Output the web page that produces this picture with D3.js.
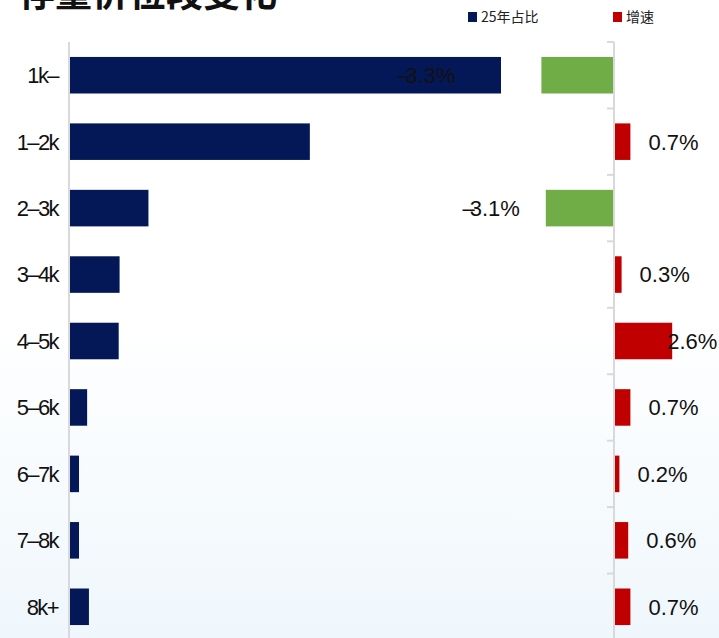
<!DOCTYPE html>
<html>
<head>
<meta charset="utf-8">
<script src="https://cdn.jsdelivr.net/npm/d3@7"></script>
<style>
  html, body { margin: 0; padding: 0; background: #fff; }
  svg { display: block; }
</style>
</head>
<body>
<svg id="chart" width="719" height="638"></svg>
<script>
// Price bands
const categories = ["1k–", "1–2k", "2–3k", "3–4k", "4–5k", "5–6k", "6–7k", "7–8k", "8k+"];
// 2025 share of each band (%)
const share2025 = [47.8, 26.6, 8.7, 5.5, 5.4, 1.9, 1.0, 1.0, 2.1];
// Change in share (percentage points)
const growth = [-3.3, 0.7, -3.1, 0.3, 2.6, 0.7, 0.2, 0.6, 0.7];
const growthLabels = ["–3.3%", "0.7%", "–3.1%", "0.3%", "2.6%", "0.7%", "0.2%", "0.6%", "0.7%"];
const legendLabels = ["25年占比", "增速"];
const title = "存量价位段变化";

const W = 719, H = 638;
const NAVY = "#041858", RED = "#c00000", GREEN = "#70ad47", AXIS = "#d9d9d9";
const latin = "'Liberation Sans', Arial, sans-serif";
const cjk = "'Noto Sans CJK SC', sans-serif";

const svg = d3.select("#chart");

// soft white-to-pale-blue backdrop
const defs = svg.append("defs");
const grad = defs.append("linearGradient").attr("id", "bg")
  .attr("x1", 0).attr("y1", 0).attr("x2", 0).attr("y2", 1);
grad.append("stop").attr("offset", "0%").attr("stop-color", "#ffffff");
grad.append("stop").attr("offset", "50%").attr("stop-color", "#ffffff");
grad.append("stop").attr("offset", "100%").attr("stop-color", "#eff7fc");
svg.append("rect").attr("width", W).attr("height", H).attr("fill", "url(#bg)");

// title, running off the top edge
svg.append("text")
  .attr("x", 18).attr("y", 7)
  .attr("font-family", cjk).attr("font-size", 37).attr("font-weight", 700)
  .attr("fill", "#111")
  .text(title);

// legend
const legend = svg.append("g").attr("font-family", cjk).attr("font-size", 14).attr("fill", "#222");
[[NAVY, 468], [RED, 613]].forEach(([c, x], i) => {
  legend.append("rect").attr("x", x).attr("y", 12).attr("width", 9).attr("height", 10).attr("fill", c);
  legend.append("text").attr("x", x + 13).attr("y", 22).text(legendLabels[i]);
});

// scales
const y = d3.scaleBand().domain(categories).range([42, 640]).paddingInner(0.45).paddingOuter(0.225);
const xShare = d3.scaleLinear().domain([0, 60]).range([70, 611]);
const xGrowth = d3.scaleLinear().domain([-4, 4]).range([526, 702]);

// left axis: share bars
svg.append("line").attr("x1", 69).attr("x2", 69).attr("y1", 42).attr("y2", H)
  .attr("stroke", AXIS).attr("stroke-width", 2);

svg.append("g").selectAll("rect").data(categories).join("rect")
  .attr("x", xShare(0))
  .attr("y", d => y(d))
  .attr("width", (d, i) => xShare(share2025[i]) - xShare(0))
  .attr("height", y.bandwidth())
  .attr("fill", NAVY);

svg.append("g").selectAll("text").data(categories).join("text")
  .attr("x", 58)
  .attr("y", d => y(d) + y.bandwidth() / 2)
  .attr("dy", "0.36em")
  .attr("text-anchor", "end")
  .attr("font-family", latin).attr("font-size", 22).attr("letter-spacing", -1.6)
  .attr("fill", "#111")
  .text(d => d);

// growth bars
svg.append("g").selectAll("rect").data(categories).join("rect")
  .attr("x", (d, i) => Math.min(xGrowth(0), xGrowth(growth[i])) + (growth[i] > 0 ? 1 : 0))
  .attr("y", d => y(d))
  .attr("width", (d, i) => Math.abs(xGrowth(growth[i]) - xGrowth(0)))
  .attr("height", y.bandwidth())
  .attr("fill", (d, i) => growth[i] < 0 ? GREEN : RED);

// right axis with ticks at band boundaries
const x0 = xGrowth(0);
svg.append("line").attr("x1", x0).attr("x2", x0).attr("y1", 42).attr("y2", H)
  .attr("stroke", AXIS).attr("stroke-width", 2);
const boundaries = categories.map(d => y(d) - y.step() * y.paddingInner() / 2);
svg.append("g").selectAll("line").data(boundaries).join("line")
  .attr("x1", x0 - 7).attr("x2", x0)
  .attr("y1", d => d).attr("y2", d => d)
  .attr("stroke", AXIS).attr("stroke-width", 2);

// growth value labels (a couple nudged where the layout was tight)
const nudge = { "1k–": -60, "4–5k": -23 };
svg.append("g").selectAll("text").data(categories).join("text")
  .attr("x", (d, i) => (growth[i] < 0 ? xGrowth(growth[i]) - 26 : xGrowth(growth[i]) + 19) + (nudge[d] || 0))
  .attr("y", d => y(d) + y.bandwidth() / 2)
  .attr("dy", "0.36em")
  .attr("text-anchor", (d, i) => growth[i] < 0 ? "end" : "start")
  .attr("font-family", latin).attr("font-size", 22)
  .attr("fill", "#111")
  .each(function (d, i) {
    const t = d3.select(this);
    const s = growthLabels[i];
    if (s.startsWith("–")) {
      // tight minus sign tucked against the digits
      t.append("tspan").text("–");
      t.append("tspan").attr("dx", -5).text(s.slice(1));
    } else {
      t.text(s);
    }
  });
</script>
</body>
</html>
